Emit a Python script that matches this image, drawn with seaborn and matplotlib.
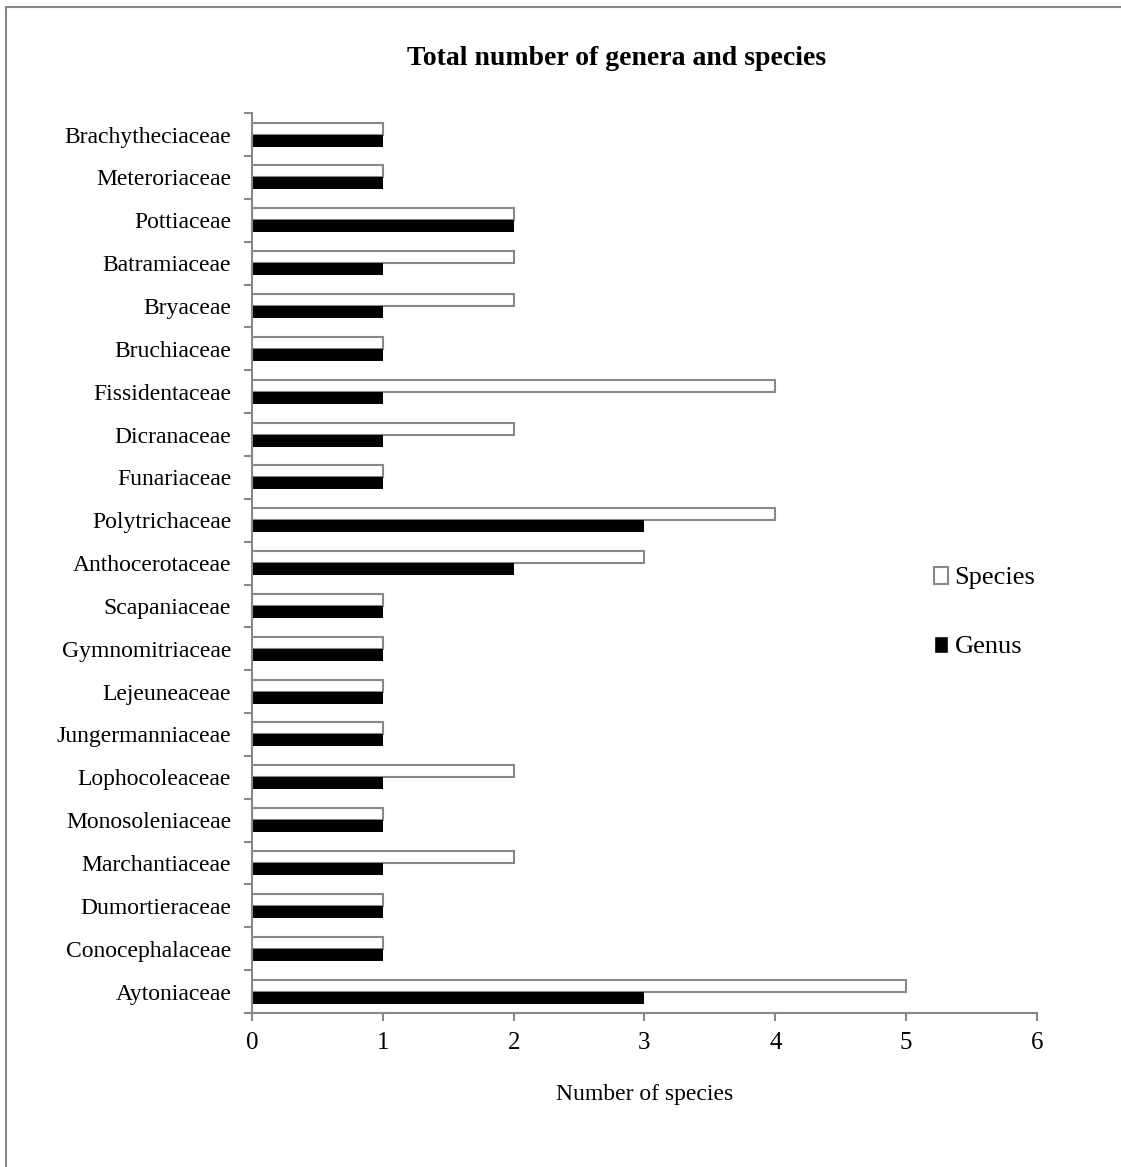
import pandas as pd
import matplotlib.pyplot as plt
import seaborn as sns

families = ['Brachytheciaceae', 'Meteroriaceae', 'Pottiaceae', 'Batramiaceae', 'Bryaceae',
            'Bruchiaceae', 'Fissidentaceae', 'Dicranaceae', 'Funariaceae', 'Polytrichaceae',
            'Anthocerotaceae', 'Scapaniaceae', 'Gymnomitriaceae', 'Lejeuneaceae',
            'Jungermanniaceae', 'Lophocoleaceae', 'Monosoleniaceae', 'Marchantiaceae',
            'Dumortieraceae', 'Conocephalaceae', 'Aytoniaceae']
species = [1, 1, 2, 2, 2, 1, 4, 2, 1, 4, 3, 1, 1, 1, 1, 2, 1, 2, 1, 1, 5]
genus = [1, 1, 2, 1, 1, 1, 1, 1, 1, 3, 2, 1, 1, 1, 1, 1, 1, 1, 1, 1, 3]

df = pd.DataFrame({'Family': families * 2,
                   'Count': species + genus,
                   'Group': ['Species'] * len(families) + ['Genus'] * len(families)})

sns.set_style("white")
plt.rcParams['font.family'] = ['Liberation Serif', 'DejaVu Serif']
plt.rcParams['text.color'] = 'black'
plt.rcParams['xtick.color'] = 'black'
plt.rcParams['ytick.color'] = 'black'
plt.rcParams['axes.labelcolor'] = 'black'
grey = '#888888'

fig = plt.figure(figsize=(11.21, 11.67), dpi=100)
ax = fig.add_axes([0.2248, 0.132, 0.7002, 0.771])

sns.barplot(data=df, x='Count', y='Family', hue='Group', hue_order=['Species', 'Genus'],
            order=families, orient='h', palette={'Species': 'white', 'Genus': 'black'},
            width=0.56, gap=0, ax=ax)

for bar, g in zip(ax.patches, ['Species'] * len(families) + ['Genus'] * len(families)):
    if g == 'Species':
        bar.set_edgecolor(grey)
        bar.set_linewidth(1.5)
    else:
        bar.set_edgecolor('black')
        bar.set_linewidth(0)

ax.set_xlim(0, 6)
ax.set_ylim(len(families) - 0.5, -0.5)
ax.set_xticks(range(7))
ax.set_yticks(range(len(families)))
ax.set_yticks([i - 0.5 for i in range(len(families) + 1)], minor=True)
ax.tick_params(axis='y', which='major', length=0, labelsize=17, pad=15)
ax.tick_params(axis='y', which='minor', length=6, color=grey, width=1.5, left=True)
ax.tick_params(axis='x', length=6, color=grey, width=1.5, labelsize=18, pad=8, bottom=True)

sns.despine(ax=ax)
for s in ['left', 'bottom']:
    ax.spines[s].set_color(grey)
    ax.spines[s].set_linewidth(1.5)

ax.set_ylabel('')
ax.set_xlabel('Number of species', fontsize=17, labelpad=21)
fig.text(0.55, 0.95, 'Total number of genera and species', fontsize=20, fontweight='bold',
         ha='center', va='center')

handles, labels = ax.get_legend_handles_labels()
for h in handles:
    if h.get_label() == 'Species':
        h.set_edgecolor(grey)
        h.set_linewidth(1.5)
ax.legend(handles, labels, loc='center left', bbox_to_anchor=(0.838, 0.445), frameon=False,
          fontsize=19, handlelength=0.55, handleheight=0.62, handletextpad=0.25,
          labelspacing=1.75)

fig.add_artist(plt.Rectangle((0.0055, -0.01), 1.1, 1.004, transform=fig.transFigure,
                             fill=False, edgecolor=grey, linewidth=1.5))

fig.savefig('out.png', dpi=100)
